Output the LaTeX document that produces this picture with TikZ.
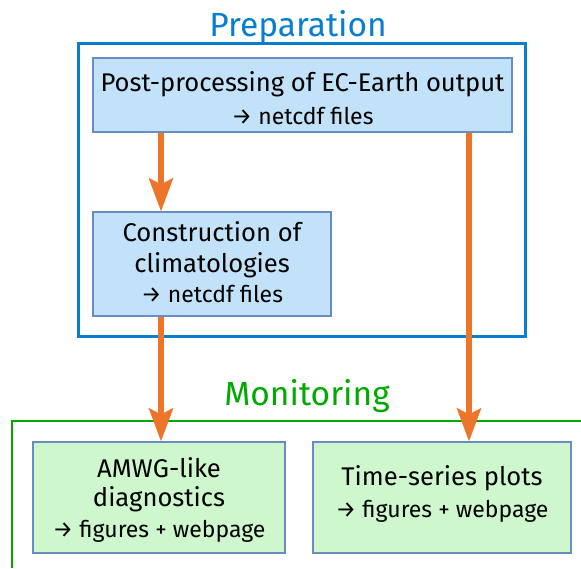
\documentclass[tikz,border=0pt]{standalone}
\usepackage{fontspec}
\setmainfont{Fira Sans}
\usetikzlibrary{arrows.meta}

\definecolor{prepblue}{RGB}{8,126,208}
\definecolor{monigreen}{RGB}{0,170,0}
\definecolor{bluefill}{RGB}{194,226,250}
\definecolor{greenfill}{RGB}{206,247,206}
\definecolor{boxedge}{RGB}{105,140,195}
\definecolor{flow}{RGB}{237,117,42}

\tikzset{
  stagebox/.style={draw=boxedge, line width=1.2pt, inner sep=0pt},
  prepbox/.style={stagebox, fill=bluefill},
  monibox/.style={stagebox, fill=greenfill},
  mainline/.style={anchor=base, inner sep=0pt, font=\fontsize{25.6}{30}\selectfont},
  subline/.style={anchor=base, inner sep=0pt, font=\fontsize{23}{27}\selectfont},
  title/.style={anchor=base, inner sep=0pt, font=\fontsize{33.5}{38}\selectfont},
  flowarrow/.style={draw=flow, line width=5.5pt,
    -{Stealth[length=33pt, width=24pt, inset=6pt]}},
}

\begin{document}
\begin{tikzpicture}[x=1pt, y=-1pt]
\useasboundingbox (0,0) rectangle (581,568);

% Preparation stage
\node[draw=prepblue, line width=3pt, minimum width=447pt, minimum height=293pt,
      inner sep=0pt] (prep) at (301.5,189.5) {};
\node[title, text=prepblue] (preptitle) at (298,36) {Preparation};

\node[prepbox, minimum width=419pt, minimum height=74pt] (post) at (302.5,95) {};
\node[mainline] (postA) at (302.5,91) {Post-processing of EC-Earth output};
\node[subline]  (postB) at (302.5,124) {→ netcdf files};

\node[prepbox, minimum width=238pt, minimum height=104pt] (clim) at (212,264) {};
\node[mainline] (climA) at (212,241) {Construction of};
\node[mainline] (climB) at (212,272) {climatologies};
\node[subline]  (climC) at (212,302) {→ netcdf files};

% Monitoring stage (frame runs off the page to the right and bottom)
\coordinate (monTL) at (12,421);
\coordinate (monR) at (581,421);
\coordinate (monB) at (12,568);
\draw[monigreen, line width=2.8pt] (monB) -- (monTL) -- (monR);
\node[title, text=monigreen] (montitle) at (307,405) {Monitoring};

\node[monibox, minimum width=252pt, minimum height=111pt] (amwg) at (159,497.5) {};
\node[mainline] (amwgA) at (159,477) {AMWG-like};
\node[mainline] (amwgB) at (159,506) {diagnostics};
\node[subline]  (amwgC) at (159,537) {→ figures + webpage};

\node[monibox, minimum width=258pt, minimum height=111pt] (ts) at (442,497.5) {};
\node[mainline] (tsA) at (442,485) {Time-series plots};
\node[subline]  (tsB) at (442,517) {→ figures + webpage};

% Data flow
\coordinate (leftflow) at (161,0);
\coordinate (rightflow) at (469,0);
\draw[flowarrow] (post.south -| leftflow) -- (clim.north -| leftflow);
\draw[flowarrow] (clim.south -| leftflow) -- (amwg.north -| leftflow);
\draw[flowarrow] (post.south -| rightflow) -- (ts.north -| rightflow);
\end{tikzpicture}
\end{document}
